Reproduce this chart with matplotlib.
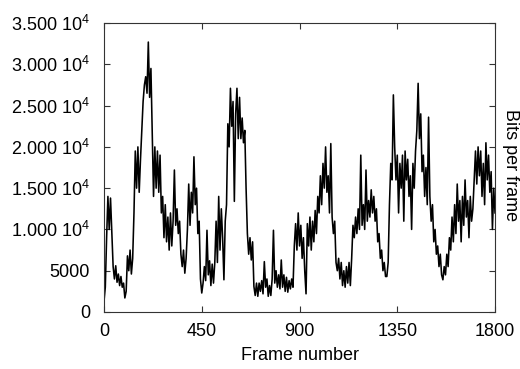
import numpy as np
import matplotlib
matplotlib.use("Agg")
import matplotlib.pyplot as plt

plt.rcParams['font.family'] = ['Liberation Sans', 'DejaVu Sans']
plt.rcParams['mathtext.fontset'] = 'custom'
plt.rcParams['mathtext.rm'] = 'Liberation Sans'
plt.rcParams['mathtext.it'] = 'Liberation Sans'

# bits per frame, read every 6 frames (in thousands of bits)
frame_step = 6
kbits = [
    1.3, 3.0, 9.0, 14.0, 10.0, 13.8, 9.5, 5.5, 4.0, 5.6,
    3.6, 4.6, 3.2, 4.3, 3.0, 3.5, 1.7, 2.5, 6.8, 5.0,
    7.5, 4.6, 6.5, 12.0, 19.5, 15.0, 20.0, 14.5, 18.5, 22.0,
    25.5, 27.5, 28.5, 26.5, 32.7, 26.0, 29.5, 21.6, 14.0, 20.0,
    15.0, 19.5, 14.5, 19.0, 12.0, 14.0, 9.0, 13.0, 8.5, 11.5,
    7.5, 12.0, 8.0, 11.0, 17.2, 10.5, 12.5, 9.5, 11.0, 7.0,
    5.5, 7.5, 4.7, 6.5, 10.0, 15.5, 10.5, 14.5, 12.0, 18.8,
    13.0, 15.0, 9.5, 11.0, 4.0, 2.3, 3.5, 5.5, 3.8, 9.9,
    4.5, 6.2, 3.2, 5.8, 3.5, 6.0, 11.0, 6.0, 14.0, 7.5,
    12.5, 9.0, 3.9, 11.0, 13.0, 22.8, 20.0, 27.1, 22.5, 25.5,
    13.4, 24.0, 27.1, 21.0, 26.0, 21.0, 23.5, 20.5, 22.0, 15.0,
    9.5, 7.0, 9.0, 6.3, 8.5, 3.1, 2.0, 3.5, 1.9, 3.5,
    2.5, 3.8, 2.2, 6.1, 3.0, 4.0, 1.9, 3.2, 2.0, 4.0,
    9.9, 3.5, 5.0, 3.0, 4.5, 2.8, 6.3, 3.0, 4.5, 2.5,
    4.2, 2.4, 3.8, 2.8, 4.0, 3.0, 8.0, 10.7, 7.5, 12.0,
    8.0, 10.5, 6.5, 9.0, 5.0, 2.2, 10.7, 8.0, 11.5, 7.5,
    11.0, 8.5, 12.3, 9.5, 14.0, 12.0, 16.5, 13.0, 18.0, 15.0,
    20.0, 14.5, 16.5, 12.0, 20.4, 11.5, 9.5, 11.0, 6.0, 5.0,
    6.5, 4.0, 6.0, 3.2, 5.0, 3.0, 5.5, 3.5, 6.0, 3.2,
    6.5, 10.5, 9.0, 11.5, 9.5, 12.5, 10.0, 19.0, 10.5, 13.0,
    10.0, 17.2, 11.0, 13.5, 11.5, 14.8, 12.0, 14.0, 11.0, 12.5,
    8.5, 9.5, 6.5, 7.5, 5.0, 6.0, 4.3, 4.3, 6.0, 13.0,
    18.0, 16.0, 26.3, 20.0, 16.0, 19.0, 12.0, 18.0, 15.0, 19.0,
    11.0, 19.5, 16.0, 18.5, 14.0, 16.5, 10.0, 18.0, 15.0, 19.5,
    22.0, 27.7, 21.0, 24.0, 17.0, 19.0, 14.0, 17.5, 13.0, 23.6,
    14.0, 11.0, 13.0, 8.5, 10.0, 7.0, 8.0, 5.5, 7.0, 4.5,
    3.9, 5.5, 4.5, 7.0, 5.5, 9.0, 7.5, 11.5, 8.5, 13.0,
    9.5, 15.5, 11.0, 13.5, 8.5, 14.0, 10.5, 16.0, 11.5, 13.5,
    9.0, 14.0, 11.0, 12.5, 16.0, 19.5, 15.5, 20.0, 16.5, 19.5,
    14.0, 18.0, 13.0, 20.5, 16.0, 19.0, 14.5, 17.0, 10.0, 15.0,
    12.0,
]

x_ticks = [0, 450, 900, 1350, 1800]
y_ticks = [0, 5000, 10000, 15000, 20000, 25000, 30000, 35000]
y_tick_labels = ["0", "5000", "1.000 10$^4$", "1.500 10$^4$", "2.000 10$^4$",
                 "2.500 10$^4$", "3.000 10$^4$", "3.500 10$^4$"]

frames = np.arange(len(kbits)) * frame_step
bits = np.array(kbits) * 1000

fig = plt.figure(figsize=(5.2, 3.69), dpi=100)
ax = fig.add_axes([0.2, 0.1545, 0.752, 0.783])

ax.plot(frames, bits, color='black', linewidth=1.15)

ax.set_xlim(0, 1800)
ax.set_ylim(0, 35000)
ax.set_xticks(x_ticks)
ax.set_yticks(y_ticks)
ax.set_yticklabels(y_tick_labels)
ax.tick_params(direction='in', length=4, width=0.8, labelsize=13,
               top=True, right=True, color='#333333')
ax.tick_params(axis='x', pad=8)
ax.tick_params(axis='y', pad=10)
for s in ax.spines.values():
    s.set_linewidth(0.8)
    s.set_color('#333333')

ax.set_xlabel("Frame number", fontsize=13, labelpad=5)
fig.text(502 / 520, 1 - 165 / 369, "Bits per frame", rotation=-90,
         fontsize=13, ha='left', va='center')

fig.savefig("out.png", dpi=100)
